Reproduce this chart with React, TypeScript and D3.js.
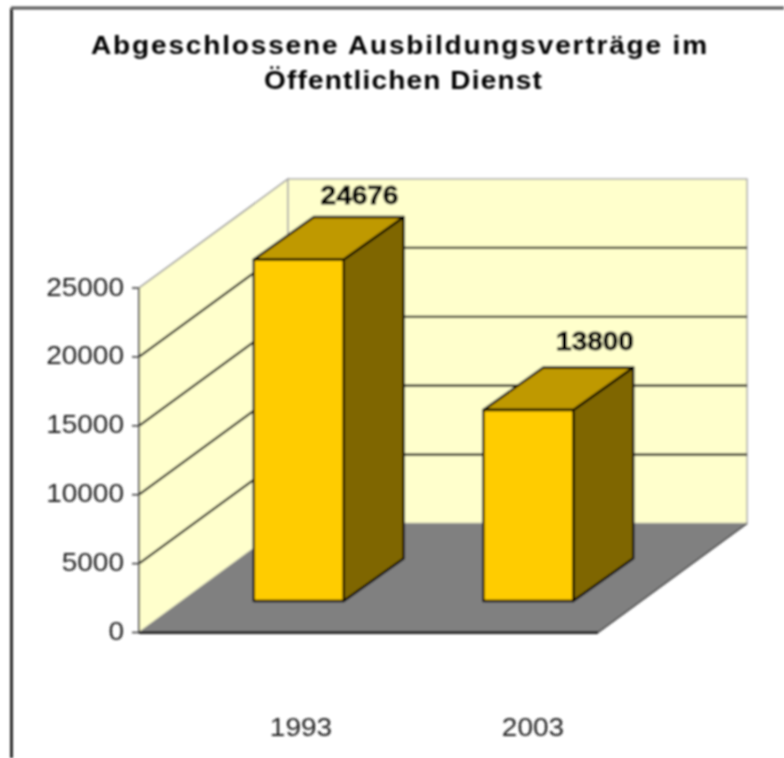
import React from 'react';
import * as d3 from 'd3';

const years = ['1993', '2003'];
const values = [24676, 13800];
const yTicks = [0, 5000, 10000, 15000, 20000, 25000];
const titleLines = ['Abgeschlossene Ausbildungsverträge im', 'Öffentlichen Dienst'];

const width = 784;
const height = 758;
const font = '"Liberation Sans", Arial, sans-serif';

// the reference is stretched sideways, text gets the same stretch
const stretch = 1.12;

// front plane of the 3D box, back wall is shifted by depth
const left = 139;
const right = 598;
const bottom = 632.5;
const top = 288;
const depthX = 149;
const depthY = 109;

// bars stand a bit inside the floor
const barOffsetX = 45;
const barDepthX = 60;
const barDepthY = 42.5;

const x = d3.scaleBand<string>().domain(years).range([left, right]).paddingInner(0.608).paddingOuter(0.304);
const y = d3.scaleLinear().domain([0, 25000]).range([bottom, top]);
const yBar = d3.scaleLinear().domain([0, 25000]).range([601, 255]);

// value labels do not sit at the same spot on both bars
const labelX = d3.scalePoint<string>().domain(years).range([359.5, 595]);
const labelY = d3.scaleLinear().domain([24676, 13800]).range([195, 341]);
const yearX = d3.scalePoint<string>().domain(years).range([301, 533]);

const poly = (pts: [number, number][]) => d3.line()(pts) + 'Z';

function Label({ x, y, size = 25, bold = false, spacing = 0, anchor = 'middle', fill = '#222', heavy = 0, children }: any) {
  return (
    <text
      transform={`translate(${x},${y}) scale(${stretch},1)`}
      dy="0.36em"
      textAnchor={anchor}
      fontFamily={font}
      fontSize={size}
      fontWeight={bold ? 'bold' : 'normal'}
      letterSpacing={spacing}
      fill={fill}
      stroke={heavy ? fill : 'none'}
      strokeWidth={heavy}
    >
      {children}
    </text>
  );
}

export default function App() {
  const yMax = y(25000);
  const y0 = y(0);

  return (
    <svg
      width={width}
      height={height}
      viewBox={`0 0 ${width} ${height}`}
      style={{ position: 'absolute', left: 0, top: 0, background: '#fff' }}
    >
      <defs>
        <filter id="soft" filterUnits="userSpaceOnUse" x="0" y="0" width={width} height={height}>
          <feGaussianBlur stdDeviation="0.8" />
        </filter>
      </defs>
      <rect width={width} height={height} fill="#fff" />
      <g filter="url(#soft)">
        {/* chart frame */}
        <path d={`M11.5,${height}V8`} fill="none" stroke="#000" strokeWidth={2.5} />
        <path d={`M11,8H${width}`} fill="none" stroke="#555" strokeWidth={3} />

        {/* walls */}
        <path
          d={poly([[left, y0], [left, yMax], [left + depthX, yMax - depthY], [left + depthX, y0 - depthY]])}
          fill="#FFFFCC"
          stroke="#999"
          strokeWidth={1.5}
        />
        <rect
          x={left + depthX}
          y={yMax - depthY}
          width={right - left}
          height={y0 - yMax}
          fill="#FFFFCC"
          stroke="#aaa"
          strokeWidth={1.5}
        />

        {/* gridlines */}
        {yTicks.slice(1, -1).map((t) => (
          <path
            key={t}
            d={`M${left},${y(t)}L${left + depthX},${y(t) - depthY}H${right + depthX}`}
            fill="none"
            stroke="#000"
            strokeWidth={2.2}
          />
        ))}

        {/* floor */}
        <path
          d={poly([[left, y0], [right, y0], [right + depthX, y0 - depthY], [left + depthX, y0 - depthY]])}
          fill="#808080"
        />
        <path d={`M${left},${y0}H${right}`} stroke="#222" strokeWidth={3} fill="none" />
        <path d={`M${right},${y0}L${right + depthX},${y0 - depthY}`} stroke="#333" strokeWidth={1.5} fill="none" />

        {/* y axis */}
        <path d={`M${left},${yMax}V${y0}`} stroke="#444" strokeWidth={1.5} fill="none" />
        {yTicks.map((t) => (
          <g key={t}>
            <path d={`M${left - 7},${y(t)}H${left}`} stroke="#333" strokeWidth={1.5} />
            <Label x={left - 15} y={y(t) - 1.5} anchor="end">
              {t}
            </Label>
          </g>
        ))}

        {/* bars */}
        {years.map((year, i) => {
          const x0 = x(year)! + barOffsetX;
          const x1 = x0 + x.bandwidth();
          const yb = yBar(0);
          const yt = yBar(values[i]);
          return (
            <g key={year} stroke="#000" strokeWidth={2.4} strokeLinejoin="round">
              <path
                d={poly([[x1, yb], [x1, yt], [x1 + barDepthX, yt - barDepthY], [x1 + barDepthX, yb - barDepthY]])}
                fill="#7F6600"
              />
              <path
                d={poly([[x0, yt], [x1, yt], [x1 + barDepthX, yt - barDepthY], [x0 + barDepthX, yt - barDepthY]])}
                fill="#BF9900"
              />
              <rect x={x0} y={yt} width={x1 - x0} height={yb - yt} fill="#FFCC00" />
            </g>
          );
        })}

        {/* value labels */}
        {years.map((year, i) => (
          <Label key={year} x={labelX(year)} y={labelY(values[i])} bold heavy={0.8} fill="#000">
            {values[i]}
          </Label>
        ))}

        {/* category labels */}
        {years.map((year) => (
          <Label key={year} x={yearX(year)} y={727}>
            {year}
          </Label>
        ))}

        {/* title */}
        {titleLines.map((line, i) => (
          <Label key={line} x={400 + i * 3.5} y={45 + i * 35} bold spacing={i === 0 ? 1.65 : 1.05} fill="#000">
            {line}
          </Label>
        ))}
      </g>
    </svg>
  );
}
